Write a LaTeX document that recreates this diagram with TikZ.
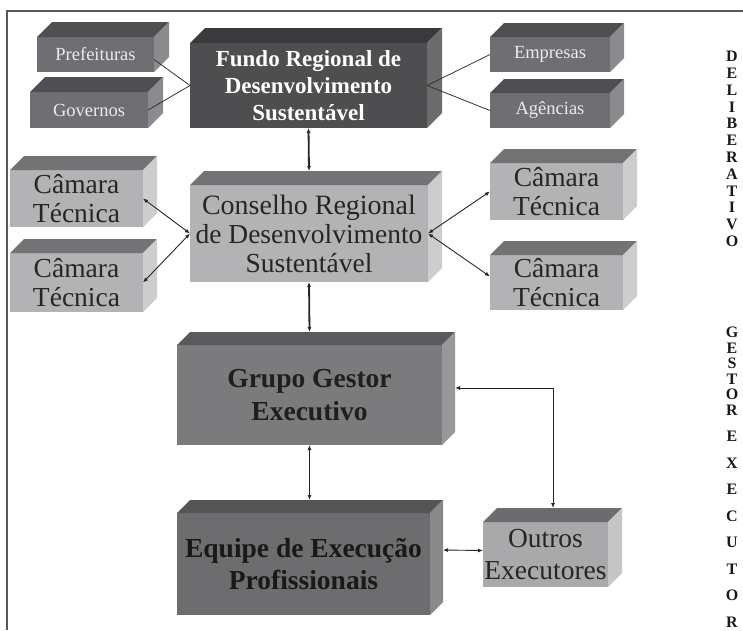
\documentclass[tikz,border=0pt]{standalone}
\usepackage{fontspec}
\setmainfont{Liberation Serif}
\usetikzlibrary{arrows.meta}
\definecolor{smfront}{HTML}{6F6F73}\definecolor{smtop}{HTML}{4F4F52}\definecolor{smside}{HTML}{8B8B8E}
\definecolor{fdfront}{HTML}{4E4E51}\definecolor{fdtop}{HTML}{3A3A3C}\definecolor{fdside}{HTML}{6C6C6F}
\definecolor{ltfront}{HTML}{B3B3B5}\definecolor{lttop}{HTML}{737375}\definecolor{ltside}{HTML}{CDCDCF}
\definecolor{grfront}{HTML}{7B7B7E}\definecolor{grtop}{HTML}{5A5A5C}\definecolor{grside}{HTML}{98989A}
\definecolor{eqfront}{HTML}{6D6D70}\definecolor{eqtop}{HTML}{555557}\definecolor{eqside}{HTML}{8A8A8C}
\definecolor{otfront}{HTML}{A9A9AB}\definecolor{ottop}{HTML}{6C6C6E}\definecolor{otside}{HTML}{C6C6C8}
\newcommand{\cubebox}[8]{%
  \node[cubefront, fill=#7front, minimum width=#4pt, minimum height=#5pt, #7txt] (#1) at (#2,#3) {#8};
  \fill[#7top] (#1.north west) -- ++(#6,-#6) -- ([shift={(#6,-#6)}]#1.north east) -- (#1.north east) -- cycle;
  \fill[#7side] (#1.north east) -- ++(#6,-#6) -- ([shift={(#6,-#6)}]#1.south east) -- (#1.south east) -- cycle;
}
\begin{document}
\begin{tikzpicture}[x=1pt,y=-1pt,
  cubefront/.style={rectangle, inner sep=0pt, outer sep=0pt, align=center},
  smtxt/.style={text=black!8, font=\fontsize{18.5}{22}\selectfont},
  fdtxt/.style={text=white, font=\fontsize{23}{27}\bfseries\selectfont},
  lttxt/.style={text=black!85, font=\fontsize{27.5}{29}\selectfont},
  grtxt/.style={text=black!88, font=\fontsize{27.5}{33}\bfseries\selectfont},
  eqtxt/.style={text=black!90, font=\fontsize{27.5}{32}\bfseries\selectfont},
  ottxt/.style={text=black!85, font=\fontsize{27.5}{32}\selectfont},
  sidetxt/.style={align=center, inner sep=0pt, text=black!90},
  tipped/.style={{Latex[length=5pt,width=4pt]}-{Latex[length=5pt,width=4pt]}},
  thin link/.style={draw=black!80, line width=0.8pt},
  arrow thin/.style={draw=black!85, line width=0.9pt, tipped},
  arrow thick/.style={draw=black!85, line width=1.8pt, tipped},
  frameline/.style={draw=black!65, line width=1.2pt}]
\useasboundingbox (0,0) rectangle (743,630);
\draw[frameline] (743,11) -- (7,11) -- (7,630);
% boxes
\cubebox{pref}{95.5}{54.5}{117}{35}{15}{sm}{Prefeituras}
\cubebox{gov}{89}{110}{118}{36}{15}{sm}{Governos}
\cubebox{fundo}{308.5}{85.5}{237}{85}{15}{fd}{Fundo Regional de\\Desenvolvimento\\Sustentável}
\cubebox{emp}{550}{54.5}{120}{35}{14}{sm}{Empresas}
\cubebox{ag}{550}{110.5}{120}{35}{14}{sm}{Agências}
\cubebox{caml1}{76.5}{198.5}{133}{57}{14}{lt}{Câmara\\Técnica}
\cubebox{caml2}{76.5}{282.5}{133}{59}{14}{lt}{Câmara\\Técnica}
\cubebox{cons}{309}{233.5}{238}{97}{14}{lt}{\fontsize{28}{27}\selectfont Conselho Regional\\de Desenvolvimento\\Sustentável}
\cubebox{camr1}{556.5}{191.5}{133}{57}{14}{lt}{Câmara\\Técnica}
\cubebox{camr2}{556.5}{282.5}{133}{55}{14}{lt}{Câmara\\Técnica}
\cubebox{grupo}{309.5}{395}{265}{100}{13}{gr}{Grupo Gestor\\Executivo}
\cubebox{equipe}{303.5}{564}{253}{102}{13}{eq}{Equipe de Execução\\Profissionais}
\cubebox{outros}{545.5}{554.5}{125}{65}{14}{ot}{Outros\\Executores}
% side labels
\node[sidetxt, font=\fontsize{16}{16.8}\bfseries\selectfont] (delib) at (732,149) {D\\E\\L\\I\\B\\E\\R\\A\\T\\I\\V\\O};
\node[sidetxt, font=\fontsize{16}{15.5}\bfseries\selectfont] (gest) at (732,371) {G\\E\\S\\T\\O\\R};
\node[sidetxt, font=\fontsize{16}{26.5}\bfseries\selectfont] (exec) at (732,529) {E\\X\\E\\C\\U\\T\\O\\R};
% connectors
\draw[thin link] ([yshift=-5pt]pref.east) -- (fundo.west);
\draw[thin link] (gov.east) -- (fundo.west);
\draw[thin link] (fundo.east) -- (emp.west);
\draw[thin link] (fundo.east) -- (ag.west);
\draw[arrow thick] (fundo.south) -- ([yshift=14pt]cons.north);
\draw[arrow thin] (cons.west) -- (caml1.east);
\draw[arrow thin] (cons.west) -- (caml2.east);
\draw[arrow thin] (cons.east) -- (camr1.west);
\draw[arrow thin] (cons.east) -- ([yshift=6pt]camr2.west);
\draw[arrow thick] (cons.south) -- ([yshift=13pt]grupo.north);
\coordinate (eqtopc) at ([yshift=13pt]equipe.north);
\draw[arrow thin] (grupo.south) -- (grupo.south |- eqtopc);
\coordinate (grright) at ([shift={(13,-7)}]grupo.east);
\coordinate (ottopc) at ([shift={(7.5,-14)}]outros.north);
\draw[arrow thin] (ottopc) |- (grright);
\draw[arrow thin] ([shift={(13,-14)}]equipe.east) -- ([yshift=4pt]outros.west);
\end{tikzpicture}
\end{document}
